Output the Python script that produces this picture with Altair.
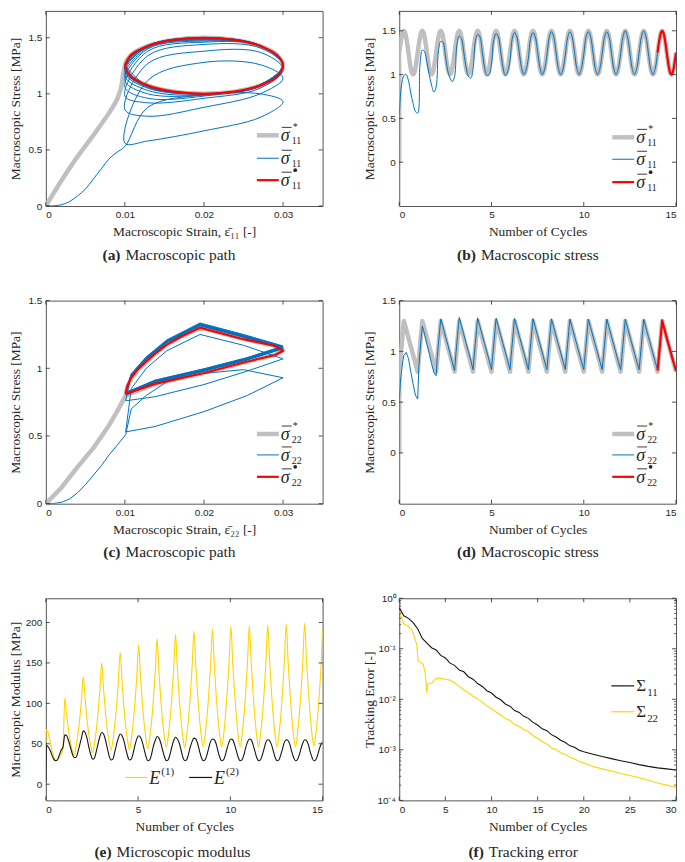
import altair as alt
import pandas as pd

# ------------------------------------------------------------------ fonts / colours
SANS = "Liberation Sans"
SERIF = "Liberation Serif"
INK = "#262626"
GREY = "#c0c0c0"
BLUE = "#0072bd"
RED = "#ff0000"
YELLOW = "#ffd400"
BLACK = "#141414"

# ------------------------------------------------------------------ data: (a),(b) sigma_11
PHASE_11 = [0.0, 0.125, 0.25, 0.375, 0.5, 0.625, 0.75, 0.875]
STRAIN_11 = [0.0100, 0.0129, 0.0200, 0.0271, 0.0300, 0.0271, 0.0200, 0.0129]
# finer description of one converged loop (target and final cycle)
PHASE_11F = [0.0, 0.0625, 0.125, 0.1875, 0.25, 0.3125, 0.375, 0.4375,
             0.5, 0.5625, 0.625, 0.6875, 0.75, 0.8125, 0.875, 0.9375]
STRAIN_11F = [0.0100, 0.01076, 0.01293, 0.01617, 0.0200, 0.02383, 0.02707, 0.02924,
              0.0300, 0.02924, 0.02707, 0.02383, 0.0200, 0.01617, 0.01293, 0.01076]
TARGET_11F = [1.25, 1.346, 1.427, 1.481, 1.50, 1.481, 1.427, 1.346,
              1.25, 1.154, 1.073, 1.019, 1.00, 1.019, 1.073, 1.154]
RED_11F = [1.25, 1.346, 1.427, 1.481, 1.50, 1.481, 1.427, 1.346,
           1.25, 1.154, 1.073, 1.019, 1.00, 1.019, 1.073, 1.154]
PRE_STRAIN_T11 = [0.0, 0.002, 0.004, 0.006, 0.008, 0.009, 0.0095]
PRE_STRESS_T11 = [0.0, 0.23, 0.44, 0.63, 0.83, 0.95, 1.05]
PRE_STRAIN_B = [0.0, 0.001, 0.002, 0.003, 0.004, 0.005, 0.006, 0.007, 0.008, 0.009]
PRE_STRESS_B11 = [0.0, 0.002, 0.012, 0.04, 0.09, 0.15, 0.24, 0.33, 0.42, 0.48]
BLUE_11 = [
    [0.53, 0.88, 0.99, 1.00, 0.93, 0.79, 0.67, 0.58],
    [0.56, 1.12, 1.28, 1.26, 1.14, 1.00, 0.88, 0.80],
    [0.86, 1.27, 1.38, 1.37, 1.22, 1.05, 0.96, 0.92],
    [0.98, 1.34, 1.44, 1.41, 1.25, 1.08, 0.98, 0.96],
    [1.06, 1.38, 1.46, 1.43, 1.26, 1.08, 0.99, 1.00],
    [1.12, 1.40, 1.47, 1.43, 1.26, 1.08, 0.99, 1.03],
    [1.16, 1.41, 1.48, 1.43, 1.26, 1.08, 1.00, 1.05],
    [1.19, 1.42, 1.48, 1.43, 1.26, 1.08, 1.00, 1.06],
    [1.21, 1.42, 1.49, 1.43, 1.25, 1.07, 1.00, 1.06],
    [1.22, 1.42, 1.49, 1.43, 1.25, 1.07, 1.00, 1.07],
    [1.23, 1.43, 1.49, 1.43, 1.25, 1.07, 1.00, 1.07],
    [1.24, 1.43, 1.49, 1.43, 1.25, 1.07, 1.00, 1.07],
    [1.24, 1.43, 1.50, 1.43, 1.25, 1.07, 1.00, 1.07],
    [1.25, 1.43, 1.50, 1.43, 1.25, 1.07, 1.00, 1.07],
    [1.25, 1.43, 1.50, 1.43, 1.25, 1.07, 1.00, 1.07],
]
END_11 = 1.25

# ------------------------------------------------------------------ data: (c),(d) sigma_22
PHASE_22 = [0.0, 0.0625, 0.125, 0.1875, 0.25, 0.375, 0.5, 0.625, 0.75, 0.875]
STRAIN_22 = [0.0101, 0.0108, 0.0127, 0.0153, 0.0195, 0.0250, 0.0300, 0.0255, 0.0200, 0.0138]
# finer description of one converged loop (target and final cycle)
PHASE_22F = [0.0, 0.03125, 0.0625, 0.09375, 0.125, 0.15625, 0.1875, 0.21875, 0.25,
             0.375, 0.45, 0.5, 0.55, 0.625, 0.75, 0.875]
STRAIN_22F = [0.0101, 0.0103, 0.0108, 0.0116, 0.0127, 0.0139, 0.0153, 0.0172, 0.0195,
              0.0250, 0.0290, 0.0300, 0.0290, 0.0255, 0.0200, 0.0138]
TARGET_22F = [0.80, 0.8625, 0.925, 0.9875, 1.05, 1.1125, 1.175, 1.2375, 1.30,
              1.217, 1.167, 1.133, 1.10, 1.05, 0.967, 0.883]
RED_22F = [0.81, 0.87, 0.93, 0.99, 1.05, 1.112, 1.175, 1.237, 1.30,
           1.215, 1.165, 1.13, 1.098, 1.05, 0.965, 0.885]
PRE_STRAIN_T22 = [0.0, 0.002, 0.004, 0.006, 0.008, 0.009]
PRE_STRESS_T22 = [0.0, 0.12, 0.27, 0.41, 0.58, 0.68]
PRE_STRESS_B22 = [0.0, 0.002, 0.01, 0.035, 0.08, 0.14, 0.21, 0.28, 0.36, 0.43]
BLUE_22 = [
    [0.51, 0.70, 0.80, 0.90, 0.96, 0.99, 0.93, 0.80, 0.68, 0.57],
    [0.53, 0.85, 1.00, 1.13, 1.25, 1.17, 1.07, 0.98, 0.88, 0.79],
    [0.76, 0.95, 1.08, 1.20, 1.32, 1.24, 1.15, 1.07, 0.98, 0.89],
    [0.81, 0.96, 1.085, 1.21, 1.335, 1.25, 1.165, 1.08, 0.997, 0.913],
    [0.82, 0.955, 1.08, 1.205, 1.33, 1.245, 1.16, 1.077, 0.994, 0.91],
    [0.82, 0.952, 1.077, 1.202, 1.327, 1.242, 1.157, 1.075, 0.992, 0.908],
    [0.82, 0.95, 1.075, 1.20, 1.325, 1.24, 1.155, 1.073, 0.99, 0.906],
    [0.82, 0.948, 1.073, 1.198, 1.323, 1.238, 1.153, 1.071, 0.988, 0.904],
    [0.82, 0.946, 1.071, 1.196, 1.321, 1.236, 1.151, 1.069, 0.986, 0.902],
    [0.82, 0.945, 1.07, 1.195, 1.32, 1.235, 1.15, 1.068, 0.985, 0.901],
    [0.82, 0.944, 1.069, 1.194, 1.319, 1.234, 1.149, 1.067, 0.984, 0.90],
    [0.82, 0.943, 1.068, 1.193, 1.318, 1.233, 1.148, 1.066, 0.983, 0.899],
    [0.82, 0.942, 1.067, 1.192, 1.317, 1.232, 1.147, 1.065, 0.982, 0.898],
    [0.82, 0.941, 1.066, 1.191, 1.316, 1.231, 1.146, 1.064, 0.981, 0.897],
    [0.82, 0.94, 1.065, 1.19, 1.315, 1.23, 1.145, 1.063, 0.98, 0.896],
]
END_22 = 0.81

# ------------------------------------------------------------------ data: (e) microscopic modulus
PHASE_E = [0.03, 0.13, 0.23, 0.33, 0.43, 0.53, 0.63, 0.73, 0.83, 0.93]
E1_START, E1_END = 52, 192
E1 = [
    [68, 63, 53, 42, 34, 29, 30, 33, 37, 44],
    [107, 85, 67, 53, 42, 36, 45, 60, 79, 104],
    [133, 105, 81, 62, 48, 39, 49, 66, 88, 116],
    [150, 117, 90, 68, 52, 42, 53, 72, 96, 126],
    [163, 127, 96, 72, 54, 43, 55, 75, 100, 133],
    [172, 133, 101, 75, 56, 44, 57, 77, 105, 139],
    [180, 139, 105, 78, 58, 45, 58, 79, 107, 143],
    [185, 143, 107, 79, 58, 45, 59, 80, 109, 146],
    [189, 146, 110, 81, 59, 46, 60, 82, 111, 148],
    [192, 148, 111, 82, 60, 46, 60, 83, 113, 150],
    [195, 150, 113, 83, 60, 46, 60, 83, 113, 151],
    [196, 151, 113, 83, 60, 46, 60, 83, 113, 152],
    [197, 152, 114, 83, 60, 46, 60, 83, 114, 152],
    [198, 152, 114, 83, 60, 46, 60, 84, 114, 153],
    [199, 153, 115, 84, 61, 47, 61, 84, 114, 153],
]
E2_START, E2_END = 3, 52
E2 = [
    [48, 46, 42, 36, 31, 29, 30, 36, 42, 46],
    [61, 60, 54, 46, 38, 33, 33, 39, 48, 57],
    [66, 64, 57, 46, 37, 31, 32, 40, 50, 59],
    [64, 62, 55, 45, 35, 30, 31, 39, 49, 57],
    [62, 60, 54, 44, 35, 30, 31, 38, 48, 56],
    [60, 58, 52, 43, 34, 29, 30, 37, 47, 54],
    [59, 57, 51, 42, 34, 29, 30, 37, 46, 54],
    [58, 56, 51, 42, 33, 29, 30, 37, 46, 53],
    [57, 56, 50, 41, 33, 29, 30, 36, 45, 53],
    [56, 55, 50, 41, 33, 29, 30, 36, 45, 52],
    [56, 55, 49, 41, 33, 29, 30, 36, 45, 52],
    [56, 55, 49, 41, 33, 29, 30, 36, 44, 52],
    [55, 54, 49, 41, 33, 29, 30, 36, 44, 52],
    [55, 54, 49, 40, 33, 29, 30, 36, 44, 51],
    [55, 54, 49, 40, 33, 29, 30, 36, 44, 50],
]

# ------------------------------------------------------------------ data: (f) tracking error
F_T11 = [0, 0.5, 1, 1.5, 2, 2.5, 3, 3.5, 4, 4.5, 5, 5.5, 6, 6.5, 7, 7.5, 8, 8.5, 9, 9.5,
         10, 10.5, 11, 11.5, 12, 12.5, 13, 13.5, 14, 14.5, 15, 15.5, 16, 16.5, 17, 17.5,
         18, 18.5, 19, 19.5, 20, 21, 22, 23, 24, 25, 26, 27, 28, 29, 30]
F_S11 = [0.65, 0.45, 0.40, 0.33, 0.25, 0.16, 0.13, 0.105, 0.095, 0.074, 0.066, 0.052, 0.047,
         0.038, 0.035, 0.028, 0.025, 0.0205, 0.018, 0.0148, 0.0133, 0.011, 0.0098, 0.0081,
         0.0073, 0.006, 0.0055, 0.0046, 0.0042, 0.0035, 0.0031, 0.0026, 0.0024, 0.002, 0.0018,
         0.00155, 0.0014, 0.0012, 0.00112, 0.00098, 0.00092, 0.00082, 0.00074, 0.00067,
         0.00061, 0.00056, 0.00051, 0.00047, 0.00044, 0.00042, 0.0004]
F_T22 = [0, 0.5, 1, 1.5, 1.9, 2.05, 2.6, 2.85, 2.97, 3.05, 3.5, 4, 4.5, 5, 5.5, 6, 6.5, 7, 7.5,
         8, 8.5, 9, 9.5, 10, 10.5, 11, 11.5, 12, 12.5, 13, 13.5, 14, 14.5, 15, 15.5, 16, 16.5,
         17, 17.5, 18, 18.5, 19, 19.5, 20, 21, 22, 23, 24, 25, 26, 27, 28, 29, 30]
F_S22 = [0.55, 0.31, 0.28, 0.21, 0.12, 0.058, 0.05, 0.03, 0.0135, 0.02, 0.021, 0.026, 0.0265,
         0.025, 0.024, 0.021, 0.018, 0.0155, 0.0135, 0.0115, 0.0102, 0.0088, 0.0074, 0.0065,
         0.0056, 0.0049, 0.0042, 0.0038, 0.0032, 0.0029, 0.0025, 0.0023, 0.0019, 0.0017,
         0.00145, 0.0013, 0.0011, 0.001, 0.00088, 0.00081, 0.00071, 0.00066, 0.00059, 0.00055,
         0.00047, 0.00042, 0.00038, 0.00034, 0.00031, 0.00028, 0.00025, 0.00022, 0.0002, 0.00018]

# ------------------------------------------------------------------ tick labels
TICK_STRAIN = [0, 0.01, 0.02, 0.03]
TICK_CYC15 = [0, 5, 10, 15]
TICK_CYC30 = [0, 5, 10, 15, 20, 25, 30]
TICK_STRESS = [0, 0.5, 1, 1.5]
TICK_MOD = [0, 50, 100, 150, 200]
TICK_ERR = [1e-4, 1e-3, 1e-2, 1e-1, 1]
MINOR_ERR = [m * d for d in [1e-4, 1e-3, 1e-2, 1e-1] for m in range(2, 10)]

# ------------------------------------------------------------------ layout sizes
W = 278
H1, H2, H3 = 196, 204, 203


def build(pre_strain, pre_stress, cycles, phases, strains, first, end_val):
    rows = []
    for e, s in zip(pre_strain, pre_stress):
        rows.append({"t": 0.0, "e": e, "s": s})
    for k, vals in enumerate(cycles):
        for p, e, s in zip(phases, strains, vals):
            rows.append({"t": first + k + p, "e": e, "s": s})
    rows.append({"t": first + len(cycles), "e": strains[0], "s": end_val})
    for i, r in enumerate(rows):
        r["i"] = i
    return pd.DataFrame(rows)


def build_t(start, cycles, phases, end):
    rows = [{"t": 0.0, "v": start}]
    for k, vals in enumerate(cycles):
        for p, v in zip(phases, vals):
            rows.append({"t": k + p, "v": v})
    rows.append({"t": 15.0, "v": end})
    return pd.DataFrame(rows)


g11 = build(PRE_STRAIN_T11, PRE_STRESS_T11, [TARGET_11F for _ in range(15)], PHASE_11F, STRAIN_11F, 0, TARGET_11F[0])
b11 = build(PRE_STRAIN_B, PRE_STRESS_B11, BLUE_11, PHASE_11, STRAIN_11, 0, END_11)
r11 = build([], [], [RED_11F], PHASE_11F, STRAIN_11F, 14, END_11)
g22 = build(PRE_STRAIN_T22, PRE_STRESS_T22, [TARGET_22F for _ in range(15)], PHASE_22F, STRAIN_22F, 0, TARGET_22F[0])
b22 = build(PRE_STRAIN_B, PRE_STRESS_B22, BLUE_22, PHASE_22, STRAIN_22, 0, TARGET_22F[0])
r22 = build([], [], [RED_22F], PHASE_22F, STRAIN_22F, 14, END_22)
e1 = build_t(E1_START, E1, PHASE_E, E1_END)
e2 = build_t(E2_START, E2, PHASE_E, E2_END)
f11 = pd.DataFrame({"t": F_T11, "v": F_S11})
f22 = pd.DataFrame({"t": F_T22, "v": F_S22})

ONE = alt.Data(values=[{"k": 0}])


def txt(text, x, y, size, style="normal", weight="normal", align="left", font=SERIF, color=INK):
    return alt.Chart(ONE).mark_text(
        text=text, font=font, fontSize=size, fontStyle=style, fontWeight=weight,
        align=align, baseline="middle", color=color
    ).encode(x=alt.value(x), y=alt.value(y))


def hrule(x0, x1, y, color, w):
    return alt.Chart(ONE).mark_rule(color=color, strokeWidth=w, strokeCap="butt").encode(
        x=alt.value(x0), x2=alt.value(x1), y=alt.value(y))


def dot(x, y, size):
    return alt.Chart(ONE).mark_circle(color=INK, opacity=1, size=size).encode(
        x=alt.value(x), y=alt.value(y))


def sigma_entry(x0, y, color, w, sup, sub):
    out = [
        hrule(x0, x0 + 22, y, color, w),
        txt("σ", x0 + 24, y + 1, 18, style="italic"),
        hrule(x0 + 25, x0 + 35, y - 8, INK, 0.9),
        txt(sub, x0 + 35, y + 6, 10),
    ]
    if sup == "*":
        out.append(txt("*", x0 + 36, y - 8.5, 10))
    elif sup == "•":
        out.append(dot(x0 + 38.5, y - 10, 14))
    return out


def caption(label, text, xc, y):
    return [txt(label, xc, y, 15.5, weight="bold", align="right"), txt(text, xc + 5, y, 15.5)]


def xaxis(title, values, fmt="~g"):
    return alt.Axis(title=title, values=values, format=fmt, titlePadding=5)


def yaxis(title, values, h, fmt="~g", expr=None):
    kw = dict(title=title, values=values, format=fmt, titleX=-30, titleY=h / 2,
              titleBaseline="middle", titleAlign="center", titleAngle=270)
    if expr:
        kw["labelExpr"] = expr
    return alt.Axis(**kw)


def ticks(xvals, yvals, xs, ys, xa, ya, h, yminor=None):
    out = []
    dx = alt.Data(values=[{"v": v} for v in xvals])
    dy = alt.Data(values=[{"v": v} for v in yvals])
    for (a, b) in [(h, h - 4), (0, 4)]:
        out.append(alt.Chart(dx).mark_rule(color=INK, strokeWidth=0.8).encode(
            x=alt.X("v:Q", scale=xs, axis=xa), y=alt.value(a), y2=alt.value(b)))
    for (a, b) in [(0, 4), (W, W - 4)]:
        out.append(alt.Chart(dy).mark_rule(color=INK, strokeWidth=0.8).encode(
            y=alt.Y("v:Q", scale=ys, axis=ya), x=alt.value(a), x2=alt.value(b)))
    if yminor:
        dm = alt.Data(values=[{"v": v} for v in yminor])
        for (a, b) in [(0, 2), (W, W - 2)]:
            out.append(alt.Chart(dm).mark_rule(color=INK, strokeWidth=0.7).encode(
                y=alt.Y("v:Q", scale=ys, axis=ya), x=alt.value(a), x2=alt.value(b)))
    return out


def path_layer(df, x, y, color, w, interp, xs, ys, xa, ya):
    return alt.Chart(df).mark_line(color=color, strokeWidth=w, interpolate=interp, clip=True,
                                   strokeJoin="round").encode(
        x=alt.X(f"{x}:Q", scale=xs, axis=xa),
        y=alt.Y(f"{y}:Q", scale=ys, axis=ya),
        order="i:Q")


def tline(df, color, w, interp, xs, ys, xa, ya):
    return alt.Chart(df).mark_line(color=color, strokeWidth=w, interpolate=interp, clip=True).encode(
        x=alt.X("t:Q", scale=xs, axis=xa), y=alt.Y("v:Q", scale=ys, axis=ya))


STRESS_Y = "Macroscopic Stress [MPa]"

# ------------------------------------------------------------------ panel (a)
xs_a = alt.Scale(domain=[0, 0.035], nice=False)
ys_a = alt.Scale(domain=[0, 1.739], nice=False, zero=False)
xa_a = xaxis("Macroscopic Strain, ε̄₁₁ [-]", TICK_STRAIN)
ya_a = yaxis(STRESS_Y, TICK_STRESS, H1)
pa = alt.layer(
    path_layer(g11, "e", "s", GREY, 4.5, "catmull-rom", xs_a, ys_a, xa_a, ya_a),
    path_layer(b11, "e", "s", BLUE, 1, "catmull-rom", xs_a, ys_a, xa_a, ya_a),
    path_layer(r11, "e", "s", RED, 2.2, "catmull-rom", xs_a, ys_a, xa_a, ya_a),
    *ticks(TICK_STRAIN, TICK_STRESS, xs_a, ys_a, xa_a, ya_a, H1),
    *sigma_entry(212, 125, GREY, 4.5, "*", "11"),
    *sigma_entry(212, 148, BLUE, 1, "", "11"),
    *sigma_entry(212, 170, RED, 2.2, "•", "11"),
    *caption("(a)", "Macroscopic path", 75, H1 + 49),
).properties(width=W, height=H1)

# ------------------------------------------------------------------ panel (b)
xs_b = alt.Scale(domain=[0, 15], nice=False)
ys_b = alt.Scale(domain=[-0.5, 1.727], nice=False, zero=False)
xa_b = xaxis("Number of Cycles", TICK_CYC15)
ya_b = yaxis(STRESS_Y, TICK_STRESS, H1)
pb = alt.layer(
    path_layer(g11, "t", "s", GREY, 4.5, "catmull-rom", xs_b, ys_b, xa_b, ya_b),
    path_layer(b11, "t", "s", BLUE, 1, "catmull-rom", xs_b, ys_b, xa_b, ya_b),
    path_layer(r11, "t", "s", RED, 2.2, "catmull-rom", xs_b, ys_b, xa_b, ya_b),
    *ticks(TICK_CYC15, TICK_STRESS, xs_b, ys_b, xa_b, ya_b, H1),
    *sigma_entry(214, 127, GREY, 4.5, "*", "11"),
    *sigma_entry(214, 149, BLUE, 1, "", "11"),
    *sigma_entry(214, 172, RED, 2.2, "•", "11"),
    *caption("(b)", "Macroscopic stress", 77, H1 + 49),
).properties(width=W, height=H1)

# ------------------------------------------------------------------ panel (c)
ys_c = alt.Scale(domain=[0, 1.5], nice=False, zero=False)
xa_c = xaxis("Macroscopic Strain, ε̄₂₂ [-]", TICK_STRAIN)
ya_c = yaxis(STRESS_Y, TICK_STRESS, H2)
pc = alt.layer(
    path_layer(g22, "e", "s", GREY, 4.5, "linear", xs_a, ys_c, xa_c, ya_c),
    path_layer(b22, "e", "s", BLUE, 1, "linear", xs_a, ys_c, xa_c, ya_c),
    path_layer(r22, "e", "s", RED, 2.2, "linear", xs_a, ys_c, xa_c, ya_c),
    *ticks(TICK_STRAIN, TICK_STRESS, xs_a, ys_c, xa_c, ya_c, H2),
    *sigma_entry(212, 134, GREY, 4.5, "*", "22"),
    *sigma_entry(212, 155, BLUE, 1, "", "22"),
    *sigma_entry(212, 177, RED, 2.2, "•", "22"),
    *caption("(c)", "Macroscopic path", 75, H2 + 49),
).properties(width=W, height=H2)

# ------------------------------------------------------------------ panel (d)
ys_d = alt.Scale(domain=[-0.5, 1.5], nice=False, zero=False)
xa_d = xaxis("Number of Cycles", TICK_CYC15)
ya_d = yaxis(STRESS_Y, TICK_STRESS, H2)
pd_ = alt.layer(
    path_layer(g22, "t", "s", GREY, 4.5, "linear", xs_b, ys_d, xa_d, ya_d),
    path_layer(b22, "t", "s", BLUE, 1, "linear", xs_b, ys_d, xa_d, ya_d),
    path_layer(r22, "t", "s", RED, 2.2, "linear", xs_b, ys_d, xa_d, ya_d),
    *ticks(TICK_CYC15, TICK_STRESS, xs_b, ys_d, xa_d, ya_d, H2),
    *sigma_entry(214, 134, GREY, 4.5, "*", "22"),
    *sigma_entry(214, 155, BLUE, 1, "", "22"),
    *sigma_entry(214, 177, RED, 2.2, "•", "22"),
    *caption("(d)", "Macroscopic stress", 77, H2 + 49),
).properties(width=W, height=H2)

# ------------------------------------------------------------------ panel (e)
ys_e = alt.Scale(domain=[-20, 230], nice=False, zero=False)
xa_e = xaxis("Number of Cycles", TICK_CYC15)
ya_e = yaxis("Microscopic Modulus [MPa]", TICK_MOD, H3, fmt="d")
pe = alt.layer(
    tline(e1, YELLOW, 1.1, "monotone", xs_b, ys_e, xa_e, ya_e),
    tline(e2, BLACK, 1.1, "monotone", xs_b, ys_e, xa_e, ya_e),
    *ticks(TICK_CYC15, TICK_MOD, xs_b, ys_e, xa_e, ya_e, H3),
    hrule(80, 102, 180, YELLOW, 1.2),
    txt("E", 104, 182, 18, style="italic"),
    txt("(1)", 116, 175, 11),
    hrule(144, 167, 180, BLACK, 1.2),
    txt("E", 169, 182, 18, style="italic"),
    txt("(2)", 181, 175, 11),
    *caption("(e)", "Microscopic modulus", 66, H3 + 52),
).properties(width=W, height=H3)

# ------------------------------------------------------------------ panel (f)
xs_f = alt.Scale(domain=[0, 30], nice=False)
ys_f = alt.Scale(type="log", domain=[1e-4, 1], nice=False)
LOG_EXPR = "['10⁻⁴','10⁻³','10⁻²','10⁻¹','10⁰'][round(log(datum.value)/log(10)) + 4]"
xa_f = xaxis("Number of Cycles", TICK_CYC30)
ya_f = yaxis("Tracking Error [-]", TICK_ERR, H3, expr=LOG_EXPR)
pf = alt.layer(
    tline(f11, BLACK, 1.1, "linear", xs_f, ys_f, xa_f, ya_f),
    tline(f22, YELLOW, 1.1, "linear", xs_f, ys_f, xa_f, ya_f),
    *ticks(TICK_CYC30, TICK_ERR, xs_f, ys_f, xa_f, ya_f, H3, yminor=MINOR_ERR),
    hrule(213, 236, 88, BLACK, 1.2),
    txt("Σ", 238, 88, 17),
    txt("11", 249, 95, 11),
    hrule(213, 236, 114, YELLOW, 1.2),
    txt("Σ", 238, 114, 17),
    txt("22", 249, 121, 11),
    *caption("(f)", "Tracking error", 85, H3 + 52),
).properties(width=W, height=H3)

chart = alt.concat(
    pa, pb, pc, pd_, pe, pf, columns=2,
    spacing=alt.RowColnumber(row=95, column=77),
    bounds="flush",
).properties(padding=0).configure_view(
    stroke="#555555", strokeWidth=1
).configure_axis(
    labelFont=SANS, labelFontSize=10, labelColor=INK, labelPadding=4,
    ticks=False, domain=False, grid=False,
    titleFont=SERIF, titleFontSize=13.5, titleFontWeight="normal", titleColor=INK,
)

chart.save("out.html", embed_options={"renderer": "svg", "actions": False})
